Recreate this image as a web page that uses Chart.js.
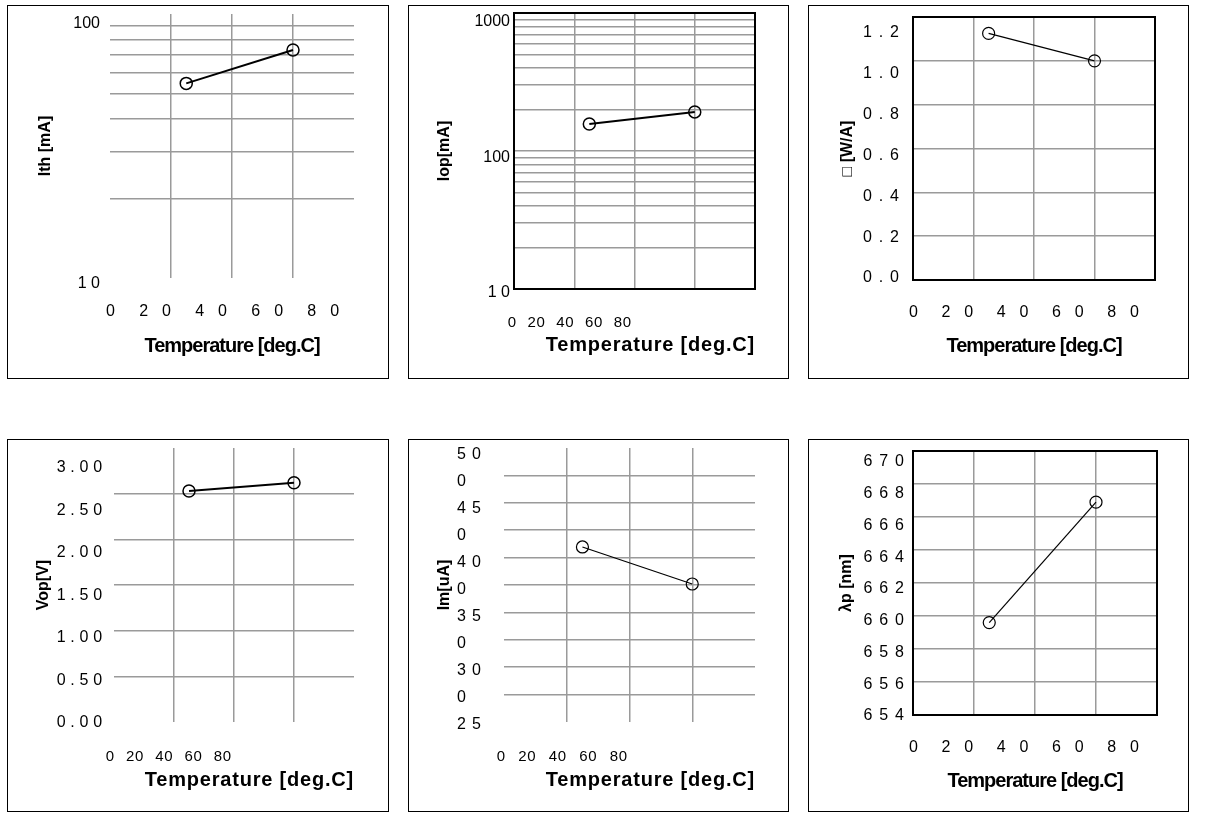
<!DOCTYPE html>
<html lang="en">
<head>
<meta charset="UTF-8">
<title>LD temperature characteristics</title>
<script src="https://cdn.jsdelivr.net/npm/chart.js"></script>
<style>
  body { margin: 0; background: #fff; width: 1205px; height: 825px; position: relative; overflow: hidden; }
  .box { position: absolute; border: 1px solid #000; }
  .box canvas { display: block; }
</style>
</head>
<body>
<script>
// measured at 25 and 60 deg.C
const temps = [25, 60];
const tempTicks = [0, 20, 40, 60, 80];
const tempLabelsWide = ['0', '2 0', '4 0', '6 0', '8 0'];
const tempLabelsTight = ['0', '20', '40', '60', '80'];

const ithValues = [54.6, 73.1];
const ithTicks = [10, 100];
const ithLabels = ['1 0', '100'];

const iopValues = [157, 192];
const iopTicks = [10, 100, 1000];
const iopLabels = ['1 0', '100', '1000'];

const etaValues = [1.125, 1.0];
const etaTicks = [0, 0.2, 0.4, 0.6, 0.8, 1.0, 1.2];
const etaLabels = ['0 . 0', '0 . 2', '0 . 4', '0 . 6', '0 . 8', '1 . 0', '1 . 2'];

const vopValues = [2.53, 2.62];
const vopTicks = [0, 0.5, 1, 1.5, 2, 2.5, 3];
const vopLabels = ['0 . 0 0', '0 . 5 0', '1 . 0 0', '1 . 5 0', '2 . 0 0', '2 . 5 0', '3 . 0 0'];

const imValues = [409.7, 375.9];
const imTicks = [250, 275, 300, 325, 350, 375, 400, 425, 450, 475, 500];
const imLabels = ['2 5', '0', '3 0', '0', '3 5', '0', '4 0', '0', '4 5', '0', '5 0'];

const lambdaValues = [659.6, 666.9];
const lambdaTicks = [654, 656, 658, 660, 662, 664, 666, 668, 670];
const lambdaLabels = ['6 5 4', '6 5 6', '6 5 8', '6 6 0', '6 6 2', '6 6 4', '6 6 6', '6 6 8', '6 7 0'];

Chart.defaults.font.family = 'Arial, "Liberation Sans", sans-serif';
Chart.defaults.color = '#000';

// 1..9 per decade, for the log grids
function logGrid(min, max) {
  const out = [];
  for (let d = min; d < max; d *= 10) {
    for (let k = 1; k < 10; k++) out.push(d * k);
  }
  out.push(max);
  return out;
}

// letter spacing for everything drawn after the datasets (x title, some tick labels)
const spacingPlugin = {
  id: 'spacing',
  beforeDraw(chart) { chart.ctx.letterSpacing = '0px'; },
  afterDatasetsDraw(chart, args, opts) { chart.ctx.letterSpacing = opts.after || '0px'; },
  afterDraw(chart) { chart.ctx.letterSpacing = '0px'; }
};

// black frame round the plot area
const framePlugin = {
  id: 'frame',
  afterDatasetsDraw(chart, args, opts) {
    if (!opts.show) return;
    const {ctx, chartArea: a} = chart;
    ctx.save();
    ctx.strokeStyle = '#000';
    ctx.lineWidth = 2;
    ctx.strokeRect(a.left, a.top, a.right - a.left, a.bottom - a.top);
    ctx.restore();
  }
};
Chart.register(spacingPlugin, framePlugin);

const GRID = '#9a9a9a';

function makeChart(s) {
  const div = document.createElement('div');
  div.className = 'box';
  div.style.left = s.box[0] + 'px';
  div.style.top = s.box[1] + 'px';
  div.style.width = s.box[2] + 'px';
  div.style.height = s.box[3] + 'px';
  const cv = document.createElement('canvas');
  cv.width = s.box[2];
  cv.height = s.box[3];
  div.appendChild(cv);
  document.body.appendChild(div);

  const ox = s.box[0] + 1, oy = s.box[1] + 1;
  const [l, t, r, b] = s.area;
  const padLeft = s.yTitleX - 9.6 - ox;
  const labLeft = s.yTickLeft != null ? s.yTickLeft : ox + padLeft + 20;
  const hLab = s.xTitleY + 12 - b;

  const fixed = (w, h) => sc => {
    if (w != null) sc.width = w;
    if (h != null) sc.height = h;
    sc.paddingLeft = sc.paddingRight = sc.paddingTop = sc.paddingBottom = 0;
  };
  const setTicks = vals => sc => { sc.ticks = vals.map(v => ({value: v})); };
  const fmt = (labels, gap) => (v, i) => labels[i].replace(/ /g, gap);
  const hideEdges = c => (c.index === 0 || c.index === c.scale.ticks.length - 1) ? 'rgba(0,0,0,0)' : GRID;

  new Chart(cv, {
    type: 'line',
    data: {
      datasets: [{
        data: temps.map((x, i) => ({x: x, y: s.values[i]})),
        borderColor: '#000',
        borderWidth: s.lw,
        pointRadius: 6,
        pointBorderWidth: s.pw,
        pointBorderColor: '#000',
        pointBackgroundColor: 'rgba(0,0,0,0)',
        xAxisID: 'x',
        yAxisID: 'y'
      }]
    },
    options: {
      responsive: false,
      animation: false,
      events: [],
      layout: {
        autoPadding: false,
        padding: {left: padLeft, top: t - oy, right: ox + s.box[2] - r, bottom: oy + s.box[3] - b - hLab}
      },
      plugins: {
        legend: {display: false},
        tooltip: {enabled: false},
        frame: {show: s.frame},
        spacing: {after: s.spacing}
      },
      scales: {
        x: {
          type: 'linear', position: 'bottom', min: 0, max: 80, weight: 1,
          afterBuildTicks: setTicks(tempTicks),
          afterFit: fixed(null, 0),
          ticks: {display: false},
          grid: {color: hideEdges, lineWidth: 1.5, drawTicks: false},
          border: {display: false}
        },
        xl: {
          type: 'linear', position: 'bottom', min: s.xLab[0], max: s.xLab[1], weight: 0,
          afterBuildTicks: setTicks(tempTicks),
          afterFit: fixed(null, hLab),
          ticks: {
            z: 1, align: 'end', autoSkip: false, maxRotation: 0, minRotation: 0,
            padding: s.xTickY - b - s.xFont * 0.6,
            font: {size: s.xFont},
            callback: fmt(s.xLabels, s.xGap)
          },
          grid: {display: false, drawTicks: false, z: 1},
          border: {display: false},
          title: {display: true, text: 'Temperature [deg.C]', align: s.xTitleAlign, padding: 0, font: {size: 20, weight: 'bold'}}
        },
        y: {
          type: s.yType, position: 'left', min: s.yMin, max: s.yMax, weight: 1,
          afterBuildTicks: setTicks(s.yGrid),
          afterFit: fixed(labLeft - ox - padLeft, null),
          ticks: {display: false},
          grid: {color: hideEdges, lineWidth: 1.5, drawTicks: false},
          border: {display: false},
          title: {display: true, text: s.yTitle, padding: 0, font: {size: 16, weight: 'bold'}}
        },
        yl: {
          type: s.yType, position: 'left', min: s.yLab[0], max: s.yLab[1], weight: 0,
          afterBuildTicks: setTicks(s.yTicks),
          afterFit: fixed(l - labLeft, null),
          ticks: {
            z: s.yZ, autoSkip: false, crossAlign: s.yAlign, padding: s.yPad,
            font: {size: s.yFont},
            callback: fmt(s.yLabels, s.yGap)
          },
          grid: {display: false, drawTicks: false, z: 1},
          border: {display: false}
        }
      }
    }
  });
}

const charts = [
  { // threshold current
    box: [7, 5, 380, 372], area: [110, 14, 354, 278],
    values: ithValues, lw: 2, pw: 1.5, frame: false, spacing: '-1px',
    yType: 'logarithmic', yMin: 10, yMax: 100, yGrid: logGrid(10, 100),
    yLab: [10.54, 109.3], yTicks: ithTicks, yLabels: ithLabels, yFont: 16, yGap: ' ', yAlign: 'near', yPad: 10, yZ: 0,
    yTitle: 'Ith [mA]', yTitleX: 45.5,
    xLab: [-1.43, 85.7], xLabels: tempLabelsWide, xGap: '\u2003', xFont: 16, xTickY: 312,
    xTitleY: 346, xTitleAlign: 'center'
  },
  { // operating current
    box: [408, 5, 379, 372], area: [514, 13, 755, 289],
    values: iopValues, lw: 2, pw: 1.5, frame: true, spacing: '0.8px',
    yType: 'logarithmic', yMin: 10, yMax: 1000, yGrid: logGrid(10, 1000),
    yLab: [10.7, 1164], yTicks: iopTicks, yLabels: iopLabels, yFont: 16, yGap: ' ', yAlign: 'near', yPad: 4, yZ: 0,
    yTitle: 'Iop[mA]', yTitleX: 445,
    xLab: [-2.09, 165.6], xLabels: tempLabelsTight, xGap: '', xFont: 15, xTickY: 323,
    xTitleY: 345, xTitleAlign: 'end'
  },
  { // slope efficiency
    box: [808, 5, 379, 372], area: [913, 17, 1155, 280],
    values: etaValues, lw: 1.2, pw: 1.2, frame: true, spacing: '-1px',
    yType: 'linear', yMin: 0, yMax: 1.2, yGrid: etaTicks,
    yLab: [-0.0098, 1.278], yTicks: etaTicks, yLabels: etaLabels, yFont: 16, yGap: '\u2007', yAlign: 'near', yPad: 15, yZ: 1,
    yTitle: '\u25A1 [W/A]', yTitleX: 848,
    xLab: [-1.45, 86.15], xLabels: tempLabelsWide, xGap: '\u2003', xFont: 16, xTickY: 313,
    xTitleY: 346, xTitleAlign: 'center'
  },
  { // operating voltage
    box: [7, 439, 380, 371], area: [114, 448, 354, 722],
    values: vopValues, lw: 2, pw: 1.5, frame: false, spacing: '0.8px',
    yType: 'linear', yMin: 0, yMax: 3, yGrid: vopTicks,
    yLab: [0.0118, 3.235], yTicks: vopTicks, yLabels: vopLabels, yFont: 16, yGap: '\u2009', yAlign: 'near', yPad: 11, yZ: 1,
    yTitle: 'Vop[V]', yTitleX: 43.5,
    xLab: [-0.68, 163.4], xLabels: tempLabelsTight, xGap: '', xFont: 15, xTickY: 757,
    xTitleY: 780, xTitleAlign: 'end'
  },
  { // monitor current
    box: [408, 439, 379, 371], area: [504, 448, 755, 722],
    values: imValues, lw: 1.2, pw: 1.2, frame: false, spacing: '0.8px',
    yType: 'linear', yMin: 250, yMax: 500, yGrid: imTicks,
    yLab: [252.78, 506.5], yTicks: imTicks, yLabels: imLabels, yFont: 16, yGap: ' ', yAlign: 'far', yTickLeft: 457, yPad: 0, yZ: 1,
    yTitle: 'Im[uA]', yTitleX: 444.5,
    xLab: [-1.31, 163.3], xLabels: tempLabelsTight, xGap: '', xFont: 15, xTickY: 757,
    xTitleY: 780, xTitleAlign: 'end'
  },
  { // peak wavelength
    box: [808, 439, 379, 371], area: [913, 451, 1157, 715],
    values: lambdaValues, lw: 1.2, pw: 1.2, frame: true, spacing: '-1px',
    yType: 'linear', yMin: 654, yMax: 670, yGrid: lambdaTicks,
    yLab: [654.063, 670.69], yTicks: lambdaTicks, yLabels: lambdaLabels, yFont: 16, yGap: '\u2007', yAlign: 'near', yPad: 10, yZ: 1,
    yTitle: '\u03BBp [nm]', yTitleX: 846.5,
    xLab: [-1.45, 86.9], xLabels: tempLabelsWide, xGap: '\u2003', xFont: 16, xTickY: 748,
    xTitleY: 781, xTitleAlign: 'center'
  }
];

charts.forEach(makeChart);
</script>
</body>
</html>
